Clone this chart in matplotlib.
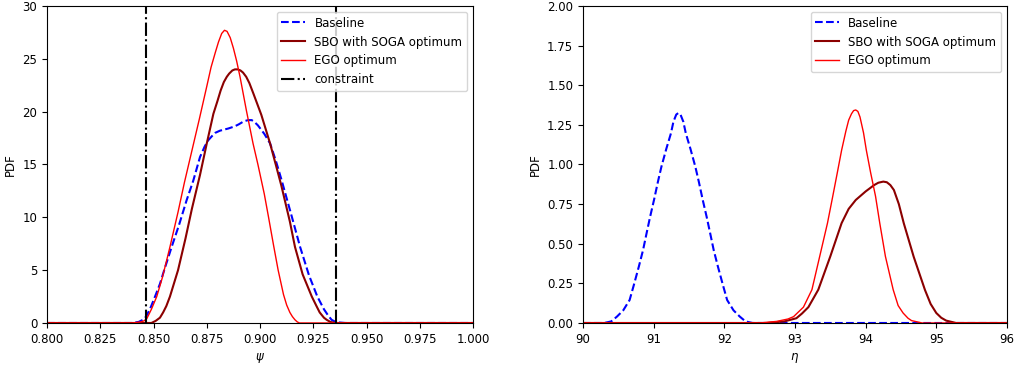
import matplotlib
matplotlib.use("Agg")
import matplotlib.pyplot as plt


# psi (left panel)
psi_base_x = [0.800, 0.840, 0.843, 0.8450, 0.8465, 0.8485, 0.8507, 0.8530, 0.8550, 0.8585,
              0.8620, 0.8655, 0.8687, 0.8718, 0.8740, 0.8757, 0.8775, 0.8790, 0.8812, 0.8850,
              0.8880, 0.8900, 0.8925, 0.8945, 0.8961, 0.8975, 0.8990, 0.9020, 0.9047, 0.9075,
              0.9100, 0.9125, 0.9150, 0.9188, 0.9230, 0.9269, 0.9300, 0.9320, 0.9336, 0.9355,
              0.9370, 0.940, 1.000]
psi_base_y = [0, 0, 0.1, 0.3, 0.6, 1.4, 2.5, 3.7, 5.0, 7.2,
              9.3, 11.6, 13.5, 15.7, 16.7, 17.3, 17.7, 18.0, 18.2, 18.4,
              18.6, 18.8, 19.1, 19.2, 19.2, 19.0, 18.7, 17.9, 17.0, 15.3,
              13.6, 11.8, 10.0, 7.2, 4.5, 2.5, 1.3, 0.7, 0.3, 0.1,
              0.05, 0, 0]

psi_sbo_x = [0.800, 0.849, 0.851, 0.8530, 0.8545, 0.8560, 0.8577, 0.8615, 0.8650, 0.8680,
             0.8718, 0.8750, 0.8781, 0.8800, 0.8815, 0.8830, 0.8844, 0.8855, 0.8870, 0.8882,
             0.8895, 0.8908, 0.8920, 0.8935, 0.8950, 0.8969, 0.9006, 0.9047, 0.9075, 0.9100,
             0.9140, 0.9164, 0.9200, 0.9243, 0.9265, 0.9280, 0.9300, 0.9313, 0.9330, 0.9352,
             1.000]
psi_sbo_y = [0, 0, 0.2, 0.5, 1.0, 1.6, 2.5, 5.0, 8.0, 10.8,
             14.0, 17.0, 19.8, 21.0, 22.0, 22.8, 23.3, 23.6, 23.9, 24.0,
             24.0, 23.9, 23.7, 23.3, 22.7, 21.7, 19.7, 17.0, 14.9, 13.0,
             9.6, 7.2, 4.6, 2.5, 1.6, 1.0, 0.5, 0.3, 0.1, 0,
             0]

psi_ego_x = [0.800, 0.840, 0.8440, 0.8455, 0.8468, 0.8490, 0.8515, 0.8540, 0.8560, 0.8577,
             0.8615, 0.8645, 0.8680, 0.8715, 0.8750, 0.8770, 0.8790, 0.8805, 0.8820, 0.8833,
             0.8845, 0.8860, 0.8875, 0.8890, 0.8906, 0.8936, 0.8967, 0.8990, 0.9020, 0.9040,
             0.9063, 0.9085, 0.9110, 0.9125, 0.9140, 0.9152, 0.9164, 0.9175, 0.9185, 1.000]
psi_ego_y = [0, 0, 0.1, 0.2, 0.4, 1.3, 2.5, 4.2, 5.8, 7.2,
             10.5, 13.3, 16.3, 19.3, 22.4, 24.2, 25.6, 26.6, 27.4, 27.7,
             27.6, 27.0, 26.0, 24.8, 23.3, 20.1, 17.0, 15.0, 12.2, 10.0,
             7.4, 5.0, 2.7, 1.7, 1.0, 0.6, 0.3, 0.1, 0, 0]

constraints = [0.8463, 0.9357]

# eta (right panel)
eta_base_x = [90.00, 90.30, 90.40, 90.48, 90.57, 90.66, 90.72, 90.79, 90.85, 90.90,
              90.95, 91.005, 91.06, 91.11, 91.18, 91.245, 91.28, 91.32, 91.35, 91.38,
              91.42, 91.455, 91.52, 91.59, 91.64, 91.695, 91.75, 91.80, 91.85, 91.91,
              91.98, 92.04, 92.13, 92.22, 92.30, 92.40, 96.00]
eta_base_y = [0, 0, 0.01, 0.04, 0.08, 0.145, 0.24, 0.355, 0.46, 0.566,
              0.67, 0.776, 0.89, 0.986, 1.10, 1.197, 1.27, 1.315, 1.325, 1.315,
              1.27, 1.197, 1.10, 0.986, 0.89, 0.776, 0.67, 0.566, 0.46, 0.355,
              0.24, 0.145, 0.08, 0.04, 0.01, 0, 0]

eta_sbo_x = [90.00, 92.60, 92.85, 93.02, 93.10, 93.19, 93.33, 93.50, 93.66, 93.76,
             93.86, 94.00, 94.12, 94.18, 94.25, 94.30, 94.35, 94.40, 94.47, 94.54,
             94.68, 94.84, 94.92, 95.00, 95.07, 95.14, 95.28, 96.00]
eta_sbo_y = [0, 0, 0.01, 0.03, 0.06, 0.10, 0.21, 0.42, 0.63, 0.72,
             0.776, 0.83, 0.87, 0.885, 0.892, 0.888, 0.87, 0.839, 0.75, 0.629,
             0.418, 0.208, 0.12, 0.063, 0.033, 0.015, 0, 0]

eta_ego_x = [90.00, 92.50, 92.74, 92.90, 92.98, 93.12, 93.24, 93.35, 93.46, 93.535,
             93.60, 93.66, 93.72, 93.76, 93.80, 93.83, 93.86, 93.89, 93.92, 93.97,
             94.01, 94.07, 94.14, 94.20, 94.28, 94.39, 94.46, 94.53, 94.60, 94.65,
             94.80, 96.00]
eta_ego_y = [0, 0, 0.01, 0.025, 0.04, 0.10, 0.21, 0.42, 0.63, 0.80,
             0.95, 1.09, 1.21, 1.28, 1.32, 1.34, 1.344, 1.335, 1.30, 1.20,
             1.09, 0.95, 0.80, 0.63, 0.42, 0.21, 0.11, 0.063, 0.03, 0.015,
             0, 0]

plt.rcParams["font.size"] = 8.5

fig = plt.figure(figsize=(10.16, 3.65), dpi=100)
ax1 = fig.add_axes([0.0463, 0.1151, 0.4193, 0.8685])
ax2 = fig.add_axes([0.5738, 0.1151, 0.4173, 0.8685])

ax1.plot(psi_base_x, psi_base_y, "b--", lw=1.5, label="Baseline")
ax1.plot(psi_sbo_x, psi_sbo_y, color="darkred", lw=1.5, label="SBO with SOGA optimum")
ax1.plot(psi_ego_x, psi_ego_y, color="red", lw=1.0, label="EGO optimum")
for i, c in enumerate(constraints):
    ax1.axvline(c, color="black", ls="-.", lw=1.5, label="constraint" if i == 0 else None)
ax1.set_xlim(0.8, 1.0)
ax1.set_ylim(0, 30)
ax1.set_xticks([0.8 + 0.025 * k for k in range(9)])
ax1.set_xlabel(r"$\psi$")
ax1.set_ylabel("PDF")
ax1.legend(loc="upper right")

ax2.plot(eta_base_x, eta_base_y, "b--", lw=1.5, label="Baseline")
ax2.plot(eta_sbo_x, eta_sbo_y, color="darkred", lw=1.5, label="SBO with SOGA optimum")
ax2.plot(eta_ego_x, eta_ego_y, color="red", lw=1.0, label="EGO optimum")
ax2.set_xlim(90, 96)
ax2.set_ylim(0, 2.0)
ax2.set_yticks([0.25 * k for k in range(9)])
ax2.set_xlabel(r"$\eta$")
ax2.set_ylabel("PDF")
ax2.legend(loc="upper right")

fig.savefig("out.png", dpi=100)
